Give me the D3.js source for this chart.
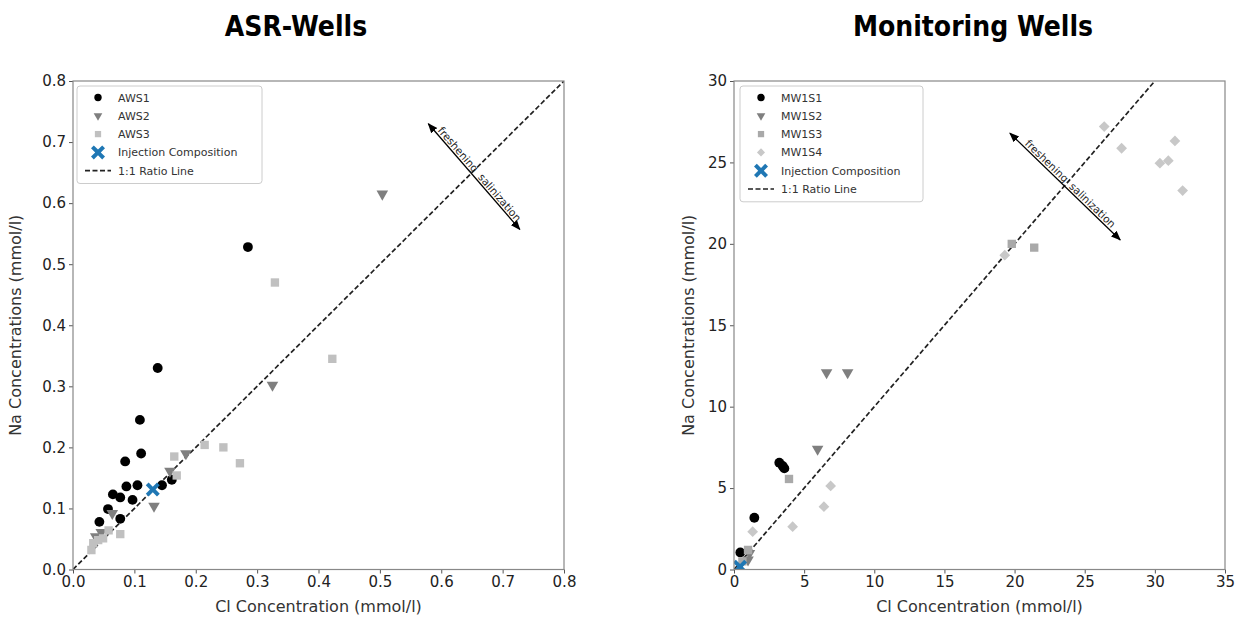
<!DOCTYPE html>
<html>
<head>
<meta charset="utf-8">
<script src="https://cdn.jsdelivr.net/npm/d3@7"></script>
<style>
  body { margin: 0; background: #fff; }
  svg { display: block; }
</style>
</head>
<body>
<div id="chart"></div>
<script>
// ASR wells: [Cl, Na] in mmol/l
const aws1 = [[0.138,0.330],[0.109,0.245],[0.111,0.190],[0.085,0.177],[0.087,0.136],[0.105,0.138],
  [0.065,0.123],[0.077,0.118],[0.097,0.114],[0.057,0.099],[0.077,0.083],[0.043,0.078],
  [0.145,0.138],[0.161,0.147],[0.285,0.528]];
const aws2 = [[0.504,0.615],[0.325,0.302],[0.184,0.190],[0.158,0.161],[0.132,0.104],[0.064,0.092],
  [0.037,0.054],[0.046,0.061]];
const aws3 = [[0.329,0.470],[0.4225,0.345],[0.2145,0.204],[0.245,0.200],[0.272,0.174],[0.165,0.185],
  [0.169,0.154],[0.077,0.058],[0.033,0.043],[0.030,0.032],[0.049,0.051],[0.058,0.064],[0.041,0.048]];
const injAsr = [[0.130,0.131]];

// monitoring wells
const mw1s1 = [[3.23,6.56],[3.47,6.36],[3.59,6.21],[1.45,3.18],[0.45,1.05]];
const mw1s2 = [[5.96,7.40],[6.6,12.1],[8.1,12.1],[1.1,1.0],[1.0,0.6]];
const mw1s3 = [[3.92,5.56],[21.4,19.77],[19.8,20.0],[1.0,1.2],[0.6,0.5]];
const mw1s4 = [[1.33,2.32],[4.18,2.63],[6.41,3.86],[6.89,5.13],[26.39,27.2],[27.63,25.87],
  [31.43,26.32],[30.36,24.95],[30.96,25.11],[31.98,23.27],[19.3,19.3]];
const injMw = [[0.43,0.17]];

const asrTicks = [0,0.1,0.2,0.3,0.4,0.5,0.6,0.7,0.8];
const mwXTicks = [0,5,10,15,20,25,30,35];
const mwYTicks = [0,5,10,15,20,25,30];

const W = 1249, H = 622;
const svg = d3.select("#chart").append("svg")
  .attr("width", W).attr("height", H)
  .style("font-family", "DejaVu Sans, sans-serif");
svg.append("rect").attr("width", W).attr("height", H).attr("fill", "#fff");

const defs = svg.append("defs");
defs.append("marker")
  .attr("id", "ahead")
  .attr("viewBox", "0 0 10 10")
  .attr("refX", 9).attr("refY", 5)
  .attr("markerWidth", 10).attr("markerHeight", 10)
  .attr("markerUnits", "userSpaceOnUse")
  .attr("orient", "auto-start-reverse")
  .append("path")
  .attr("d", "M0,1 L10,5 L0,9 Z")
  .attr("fill", "#000");

// filled "X" like matplotlib's marker
function xMarker(r, w) {
  const p = [[-r, -r + w], [-r + w, -r], [0, -w], [r - w, -r], [r, -r + w], [w, 0],
    [r, r - w], [r - w, r], [0, w], [-r + w, r], [-r, r - w], [-w, 0]];
  return "M" + p.map(d => d.join(",")).join("L") + "Z";
}

const shapes = {
  circle: () => d3.symbol(d3.symbolCircle, 76)(),
  tri: () => d3.symbol(d3.symbolTriangle, 58)(),
  square: () => d3.symbol(d3.symbolSquare, 70)(),
  diamond: () => d3.symbol(d3.symbolSquare, 58)(),
  cross: () => xMarker(7, 2.8)
};
const turn = { tri: " rotate(180)", diamond: " rotate(45)" };

function drawPanel(p) {
  const g = svg.append("g");
  const x = d3.scaleLinear().domain(p.xDomain).range([p.left, p.right]);
  const y = d3.scaleLinear().domain(p.yDomain).range([p.bottom, p.top]);

  defs.append("clipPath").attr("id", p.id + "-clip")
    .append("rect")
    .attr("x", p.left).attr("y", p.top)
    .attr("width", p.right - p.left).attr("height", p.bottom - p.top);

  // title
  svg.append("text")
    .attr("x", p.titleX).attr("y", 36)
    .attr("text-anchor", "middle")
    .attr("font-family", "Liberation Sans Narrow, DejaVu Sans Condensed, sans-serif")
    .attr("font-weight", "bold")
    .attr("font-size", "28px")
    .attr("fill", "#000")
    .text(p.title);

  const plot = g.append("g").attr("clip-path", `url(#${p.id}-clip)`);

  // 1:1 line
  const lmax = Math.min(p.xDomain[1], p.yDomain[1]);
  plot.append("line")
    .attr("x1", x(0)).attr("y1", y(0))
    .attr("x2", x(lmax)).attr("y2", y(lmax))
    .attr("stroke", "#222").attr("stroke-width", 1.7)
    .attr("stroke-dasharray", "5,2.5");

  p.series.forEach(s => {
    plot.selectAll(null)
      .data(s.data)
      .enter()
      .append("path")
      .attr("d", shapes[s.shape]())
      .attr("transform", d => `translate(${x(d[0])},${y(d[1])})` + (turn[s.shape] || ""))
      .attr("fill", s.color);
  });

  // arrow with labels
  const a0 = [x(p.arrow[0][0]), y(p.arrow[0][1])];
  const a1 = [x(p.arrow[1][0]), y(p.arrow[1][1])];
  g.append("line")
    .attr("x1", a0[0]).attr("y1", a0[1])
    .attr("x2", a1[0]).attr("y2", a1[1])
    .attr("stroke", "#000").attr("stroke-width", 1.3)
    .attr("marker-start", "url(#ahead)")
    .attr("marker-end", "url(#ahead)");
  const ang = Math.atan2(a1[1] - a0[1], a1[0] - a0[0]) * 180 / Math.PI;
  const cx = (a0[0] + a1[0]) / 2, cy = (a0[1] + a1[1]) / 2;
  g.append("text")
    .attr("transform", `translate(${cx},${cy}) rotate(${ang})`)
    .attr("x", -3).attr("y", -2)
    .attr("text-anchor", "end")
    .attr("font-size", "10.5px").attr("fill", "#222")
    .text("freshening");
  g.append("text")
    .attr("transform", `translate(${cx},${cy}) rotate(${ang})`)
    .attr("x", 3).attr("y", -2)
    .attr("text-anchor", "start")
    .attr("font-size", "10.5px").attr("fill", "#222")
    .text("salinization");

  // axes
  const xAxis = g.append("g")
    .attr("transform", `translate(0,${p.bottom})`)
    .call(d3.axisBottom(x).tickValues(p.xTicks).tickFormat(p.fmt).tickSize(4).tickSizeOuter(0));
  const yAxis = g.append("g")
    .attr("transform", `translate(${p.left},0)`)
    .call(d3.axisLeft(y).tickValues(p.yTicks).tickFormat(p.fmt).tickSize(4).tickSizeOuter(0));
  [xAxis, yAxis].forEach(a => {
    a.select(".domain").remove();
    a.selectAll("line").attr("stroke", "#555");
    a.selectAll("text").attr("font-size", "15px").attr("fill", "#222")
      .attr("font-family", "DejaVu Sans, sans-serif");
  });

  // frame
  g.append("rect")
    .attr("x", p.left).attr("y", p.top)
    .attr("width", p.right - p.left).attr("height", p.bottom - p.top)
    .attr("fill", "none").attr("stroke", "#888").attr("stroke-width", 1.2);

  // axis titles
  g.append("text")
    .attr("x", (p.left + p.right) / 2).attr("y", 612)
    .attr("text-anchor", "middle").attr("font-size", "16px").attr("fill", "#333")
    .text("Cl Concentration (mmol/l)");
  g.append("text")
    .attr("transform", `translate(${p.left - p.yLabelOff},${(p.top + p.bottom) / 2}) rotate(-90)`)
    .attr("text-anchor", "middle").attr("font-size", "16px").attr("fill", "#333")
    .text("Na Concentrations (mmol/l)");

  // legend
  const lg = g.append("g").attr("transform", `translate(${p.legend[0]},${p.legend[1]})`);
  const rows = p.series.map(s => ({ label: s.label, s }));
  rows.push({ label: "1:1 Ratio Line", line: true });
  lg.append("rect")
    .attr("x", 0).attr("y", 0)
    .attr("width", p.legendW).attr("height", rows.length * 18.3 + 6)
    .attr("rx", 3)
    .attr("fill", "#fff").attr("stroke", "#ccc");
  rows.forEach((r, i) => {
    const ry = 11.5 + i * 18.3;
    if (r.line) {
      lg.append("line")
        .attr("x1", 8).attr("x2", 34).attr("y1", ry).attr("y2", ry)
        .attr("stroke", "#222").attr("stroke-width", 1.7).attr("stroke-dasharray", "5,2.5");
    } else {
      const s = r.s;
      lg.append("path")
        .attr("d", shapes[s.shape]())
        .attr("transform", `translate(21,${ry})` + (turn[s.shape] || "") + (s.shape === "cross" ? "" : " scale(0.75)"))
        .attr("fill", s.color);
    }
    lg.append("text")
      .attr("x", 41).attr("y", ry + 4)
      .attr("font-size", "11px").attr("fill", "#333")
      .text(r.label);
  });
}

drawPanel({
  id: "asr", title: "ASR-Wells", titleX: 296,
  left: 73, right: 564, top: 81, bottom: 569.5,
  xDomain: [0, 0.8], yDomain: [0, 0.8],
  xTicks: asrTicks, yTicks: asrTicks, fmt: d3.format(".1f"),
  yLabelOff: 52,
  legend: [77, 86], legendW: 185,
  arrow: [[0.579, 0.730], [0.728, 0.557]],
  series: [
    { label: "AWS1", data: aws1, shape: "circle", color: "#000" },
    { label: "AWS2", data: aws2, shape: "tri", color: "#7f7f7f" },
    { label: "AWS3", data: aws3, shape: "square", color: "#c0c0c0" },
    { label: "Injection Composition", data: injAsr, shape: "cross", color: "#1f77b4" }
  ]
});

drawPanel({
  id: "mw", title: "Monitoring Wells", titleX: 973,
  left: 734, right: 1225, top: 81, bottom: 569.5,
  xDomain: [0, 35], yDomain: [0, 30],
  xTicks: mwXTicks, yTicks: mwYTicks, fmt: d3.format("d"),
  yLabelOff: 40,
  legend: [740, 86], legendW: 183,
  arrow: [[19.67, 26.795], [27.53, 20.24]],
  series: [
    { label: "MW1S1", data: mw1s1, shape: "circle", color: "#000" },
    { label: "MW1S2", data: mw1s2, shape: "tri", color: "#7f7f7f" },
    { label: "MW1S3", data: mw1s3, shape: "square", color: "#a9a9a9" },
    { label: "MW1S4", data: mw1s4, shape: "diamond", color: "#c8c8c8" },
    { label: "Injection Composition", data: injMw, shape: "cross", color: "#1f77b4" }
  ]
});
</script>
</body>
</html>
